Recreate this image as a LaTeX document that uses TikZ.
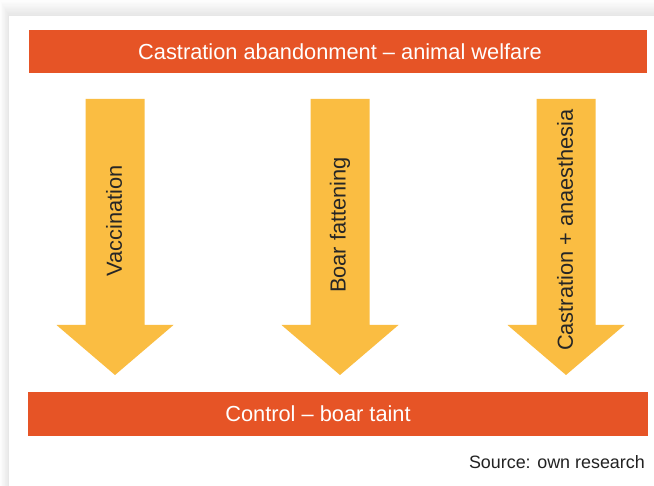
\documentclass[tikz,border=0pt]{standalone}
\usepackage{fontspec}
\setmainfont{Liberation Sans}
\definecolor{barred}{HTML}{E65426}
\definecolor{arrowyellow}{HTML}{FABD42}
\definecolor{srcgray}{HTML}{222222}
\tikzset{
  bar/.style={fill=barred, draw=none},
  bartext/.style={text=white, font=\fontsize{21.8}{24}\selectfont, inner sep=0pt},
  fatarrow/.style={fill=arrowyellow, draw=none},
  arrowtext/.style={text=black!85, font=\fontsize{21.8}{24}\selectfont, rotate=90, inner sep=0pt},
  srctext/.style={text=srcgray, font=\fontsize{17.9}{20}\selectfont, inner sep=0pt}
}
\begin{document}
\begin{tikzpicture}[x=1pt,y=-1pt]
\useasboundingbox (0,0) rectangle (654,486);
\fill[white] (0,0) rectangle (654,486);
% soft shadow of the panel
\foreach \i in {1,...,12}{
  \fill[black, opacity=0.009] (9-\i*0.75,16-\i*1.3) rectangle (700,540);
}
\fill[white] (9,16) rectangle (654,486);
% bars
\fill[bar] (29,30) rectangle (647,73);
\node[bartext] (top) at (340,52) {Castration abandonment – animal welfare};
\fill[bar] (28,392) rectangle (648,436);
\node[bartext] (bottom) at (318,414) {Control – boar taint};
% arrows
\foreach \c in {115,340,566}{
  \fill[fatarrow] (\c-29.5,99) -- (\c+29.5,99) -- (\c+29.5,325) -- (\c+58.5,325)
     -- (\c,375) -- (\c-58.5,325) -- (\c-29.5,325) -- cycle;
}
\node[arrowtext] (vac) at (114,221) {Vaccination};
\node[arrowtext] (boar) at (340,225) {Boar fattening};
\node[arrowtext] (cast) at (565,230) {Castration + anaesthesia};
% source
\node[srctext, anchor=base east] (src) at (645,469) {Source: own research};
\end{tikzpicture}
\end{document}
